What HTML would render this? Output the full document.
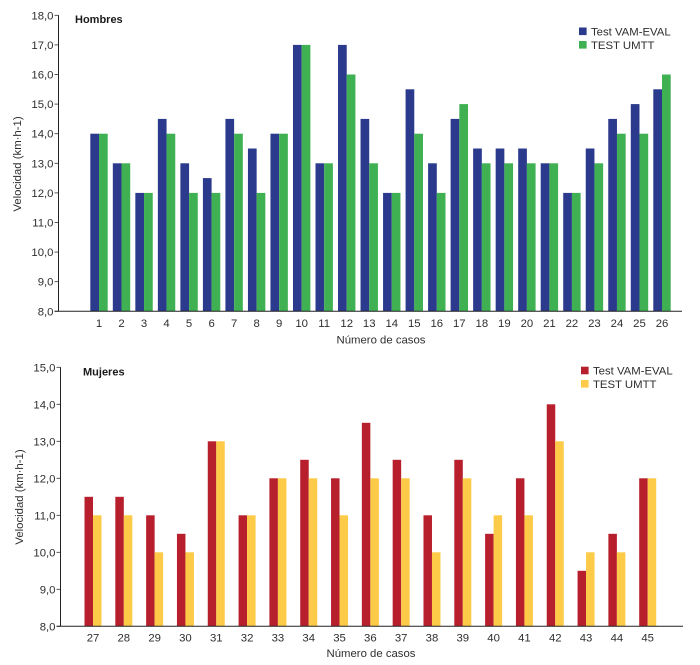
<!DOCTYPE html>
<html lang="es">
<head>
<meta charset="utf-8">
<title>Velocidad por número de casos</title>
<style>
html,body{margin:0;padding:0;background:#fff;}
svg{display:block;}
text{font-family:"Liberation Sans",Arial,sans-serif;font-size:11.35px;fill:#2e2e2e;}
.title{font-weight:bold;font-size:11px;fill:#1a1a1a;}
</style>
</head>
<body>
<svg id="figure" width="700" height="665" viewBox="0 0 700 665" xmlns="http://www.w3.org/2000/svg">
  <g id="chart-top">
    <text class="title" x="75" y="23">Hombres</text>
    <text x="381" y="343.5" text-anchor="middle">Número de casos</text>
    <text transform="translate(21,164) rotate(-90)" text-anchor="middle">Velocidad (km·h-1)</text>
    <rect x="579" y="27.5" width="7.6" height="7.6" fill="#2b3a8c"/>
    <text x="591" y="35.5">Test VAM-EVAL</text>
    <rect x="579" y="41" width="7.6" height="7.6" fill="#3fb153"/>
    <text x="591" y="49">TEST UMTT</text>
  </g>
  <g id="chart-bottom">
    <text class="title" x="83" y="375.5">Mujeres</text>
    <text x="371" y="657" text-anchor="middle">Número de casos</text>
    <text transform="translate(23,497) rotate(-90)" text-anchor="middle">Velocidad (km·h-1)</text>
    <rect x="581" y="366.7" width="7.6" height="7.6" fill="#b81f2d"/>
    <text x="593" y="374.5">Test VAM-EVAL</text>
    <rect x="581" y="380" width="7.6" height="7.6" fill="#fdcb47"/>
    <text x="593" y="388">TEST UMTT</text>
  </g>
</svg>
<script>
var hombresCases = [1,2,3,4,5,6,7,8,9,10,11,12,13,14,15,16,17,18,19,20,21,22,23,24,25,26];
var hombresVam = [14,13,12,14.5,13,12.5,14.5,13.5,14,17,13,17,14.5,12,15.5,13,14.5,13.5,13.5,13.5,13,12,13.5,14.5,15,15.5];
var hombresUmtt = [14,13,12,14,12,12,14,12,14,17,13,16,13,12,14,12,15,13,13,13,13,12,13,14,14,16];
var hombresTicks = [8,9,10,11,12,13,14,15,16,17,18];

var mujeresCases = [27,28,29,30,31,32,33,34,35,36,37,38,39,40,41,42,43,44,45];
var mujeresVam = [11.5,11.5,11,10.5,13,11,12,12.5,12,13.5,12.5,11,12.5,10.5,12,14,9.5,10.5,12];
var mujeresUmtt = [11,11,10,10,13,11,12,12,11,12,12,10,12,11,11,13,10,10,12];
var mujeresTicks = [8,9,10,11,12,13,14,15];

var SVGNS = 'http://www.w3.org/2000/svg';

function make(tag, attrs, parent) {
  var el = document.createElementNS(SVGNS, tag);
  for (var k in attrs) el.setAttribute(k, attrs[k]);
  parent.appendChild(el);
  return el;
}

function drawChart(parent, cfg) {
  var yMin = cfg.ticks[0];
  var yMax = cfg.ticks[cfg.ticks.length - 1];
  function yScale(v) {
    return cfg.yBottom - (v - yMin) * (cfg.yBottom - cfg.yTop) / (yMax - yMin);
  }
  function xScale(i) {
    return cfg.xFirst + i * (cfg.xLast - cfg.xFirst) / (cfg.cases.length - 1);
  }

  cfg.cases.forEach(function (c, i) {
    var cx = xScale(i);
    var a = make('rect', {x: cx - cfg.barW, y: yScale(cfg.vam[i]), width: cfg.barW, height: cfg.yBottom - yScale(cfg.vam[i]), fill: cfg.colorA}, parent);
    
    
    var b = make('rect', {x: cx, y: yScale(cfg.umtt[i]), width: cfg.barW, height: cfg.yBottom - yScale(cfg.umtt[i]), fill: cfg.colorB}, parent);
    
    
    var t = make('text', {x: cx, y: cfg.yBottom + cfg.xLabelDy, 'text-anchor': 'middle'}, parent);
    t.textContent = String(c);
    
    
  });

  cfg.ticks.forEach(function (v) {
    var y = yScale(v);
    var tick = make('line', {x1: cfg.xAxis - 4, x2: cfg.xAxis, y1: y, y2: y, stroke: '#333', 'stroke-width': 0.8}, parent);
    
    
    var t = make('text', {x: cfg.xAxis - 5, y: y + 4, 'text-anchor': 'end'}, parent);
    t.textContent = v.toFixed(1).replace('.', ',');
    
    
  });

  var yAxis = make('line', {x1: cfg.xAxis, x2: cfg.xAxis, y1: cfg.yTop, y2: cfg.yBottom, stroke: '#222', 'stroke-width': 1}, parent);
  
  
  var xAxis = make('line', {x1: cfg.xAxis - 4, x2: cfg.xEnd, y1: cfg.yBottom, y2: cfg.yBottom, stroke: '#222', 'stroke-width': 1}, parent);
  
  
}

drawChart(document.getElementById('chart-top'), {
  cases: hombresCases, vam: hombresVam, umtt: hombresUmtt, ticks: hombresTicks,
  yTop: 15.3, yBottom: 311.3, xAxis: 58.5, xEnd: 682, xFirst: 99, xLast: 662,
  barW: 8.7, xLabelDy: 15.7, colorA: '#2b3a8c', colorB: '#3fb153'
});
drawChart(document.getElementById('chart-bottom'), {
  cases: mujeresCases, vam: mujeresVam, umtt: mujeresUmtt, ticks: mujeresTicks,
  yTop: 367.3, yBottom: 626.3, xAxis: 60.5, xEnd: 683, xFirst: 93, xLast: 647.7,
  barW: 8.5, xLabelDy: 15, colorA: '#b81f2d', colorB: '#fdcb47'
});
</script>
</body>
</html>
